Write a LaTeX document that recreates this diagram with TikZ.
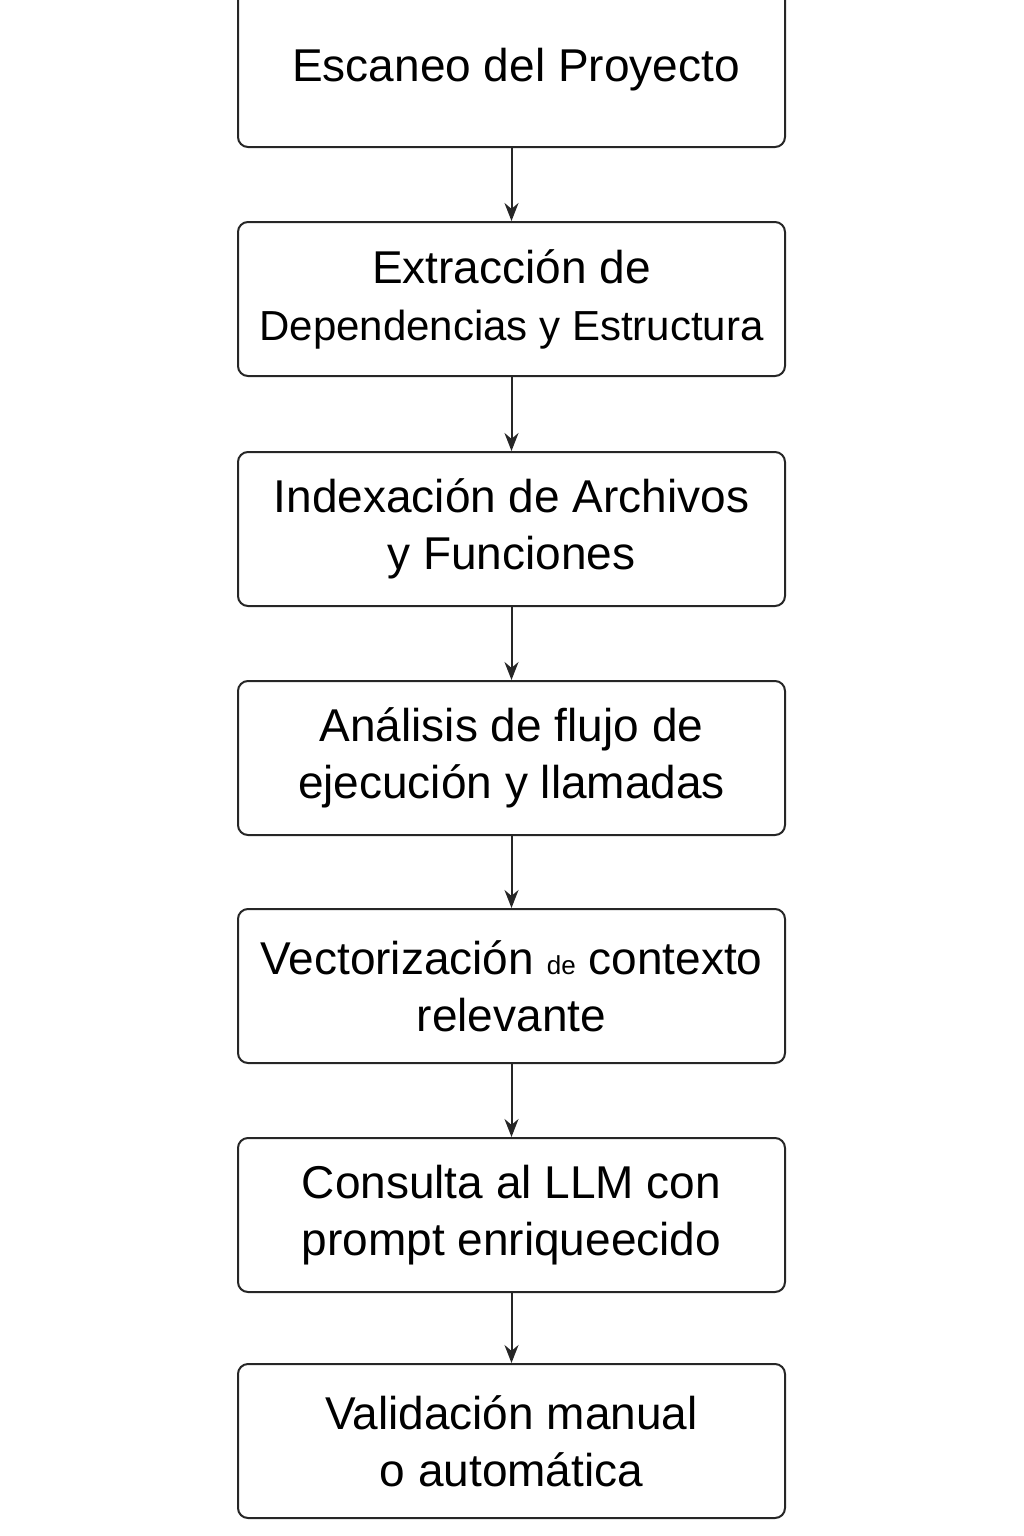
\documentclass[tikz,border=0pt]{standalone}
\usepackage{fontspec}
\setmainfont{Liberation Sans}
\usetikzlibrary{arrows.meta}
\begin{document}
\begin{tikzpicture}[x=1pt,y=-1pt,
  stepbox/.style={draw=black!85,line width=2pt,rounded corners=10pt,minimum width=547pt,minimum height=154pt,align=center,font=\fontsize{46}{57}\selectfont,inner sep=0pt},
  conn/.style={draw=black!85,line width=2pt,-{Stealth[length=18pt,width=14pt]}}]
\useasboundingbox (0,0) rectangle (1024,1536);
\clip (0,0) rectangle (1024,1536);
\node[stepbox,minimum height=166pt] (a) at (511.5,64) {};
\node[font=\fontsize{46}{57}\selectfont] (at) at (516,70) {Escaneo del Proyecto};
\node[stepbox] (b) at (511.5,299) {Extracción de\\{\fontsize{42}{57}\selectfont Dependencias y Estructura}};
\node[stepbox] (c) at (511.5,529) {Indexación de Archivos\\y Funciones};
\node[stepbox] (d) at (511.5,758) {Análisis de flujo de\\ejecución y llamadas};
\node[stepbox] (e) at (511.5,986) {Vectorización {\fontsize{26}{26}\selectfont de} contexto\\relevante};
\node[stepbox] (f) at (511.5,1215) {Consulta al LLM con\\prompt enriqueecido};
\node[stepbox] (g) at (511.5,1441) {Validación manual\\o automática};
\draw[conn] (a) -- (b);
\draw[conn] (b) -- (c);
\draw[conn] (c) -- (d);
\draw[conn] (d) -- (e);
\draw[conn] (e) -- (f);
\draw[conn] (f) -- (g);
\end{tikzpicture}
\end{document}
